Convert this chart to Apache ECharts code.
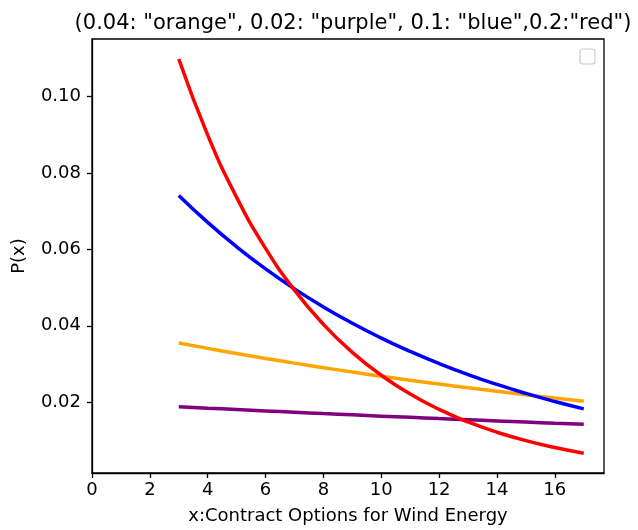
<!DOCTYPE html>
<html>
<head>
<meta charset="utf-8">
<script src="https://cdn.jsdelivr.net/npm/echarts@6/dist/echarts.min.js"></script>
<style>
  html, body { margin: 0; padding: 0; background: #fff; }
  #chart { width: 638px; height: 530px; }
</style>
</head>
<body>
<div id="chart"></div>
<script>
// x values
var xs = [3, 4, 5, 6, 7, 8, 9, 10, 11, 12, 13, 14, 15, 16, 17];
var orangeVals = [0.03548, 0.03409, 0.03275, 0.03147, 0.03023, 0.02905, 0.02791, 0.02681, 0.02576, 0.02475, 0.02378, 0.02285, 0.02195, 0.02109, 0.02026];
var purpleVals = [0.01884, 0.01846, 0.01810, 0.01774, 0.01739, 0.01704, 0.01671, 0.01637, 0.01605, 0.01573, 0.01542, 0.01512, 0.01482, 0.01452, 0.01424];
var blueVals = [0.07408, 0.06703, 0.06065, 0.05488, 0.04966, 0.04493, 0.04066, 0.03679, 0.03329, 0.03012, 0.02725, 0.02466, 0.02231, 0.02019, 0.01827];
var redVals = [0.10976, 0.08987, 0.07358, 0.06024, 0.04932, 0.04038, 0.03306, 0.02707, 0.02216, 0.01814, 0.01485, 0.01216, 0.00996, 0.00815, 0.00667];
// tick labels
var xTicks = [0, 2, 4, 6, 8, 10, 12, 14, 16];
var yTicks = [0.02, 0.04, 0.06, 0.08, 0.10];

var titleText = '(0.04: "orange", 0.02: "purple", 0.1: "blue",0.2:"red")';

function pairs(vals) {
    return xs.map(function(x, i) { return [x, vals[i]]; });
}

function lineSeries(vals, color) {
    return {
        type: 'line',
        data: pairs(vals),
        smooth: true,
        showSymbol: false,
        lineStyle: { color: color, width: 3.5 },
        itemStyle: { color: color }
    };
}

var font = 'DejaVu Sans';
var chart = echarts.init(document.getElementById('chart'));
chart.setOption({
    animation: false,
    title: {
        text: titleText,
        left: 348,
        textAlign: 'center',
        top: 8,
        textStyle: { fontFamily: font, fontSize: 21, fontWeight: 'normal', color: '#000' }
    },
    grid: {
        left: 92, right: 34, top: 39, bottom: 54,
        show: true, borderColor: '#000', borderWidth: 1.3
    },
    xAxis: {
        type: 'value',
        min: 0, max: 17.7,
        name: 'x:Contract Options for Wind Energy',
        nameLocation: 'middle',
        nameGap: 34,
        nameTextStyle: { fontFamily: font, fontSize: 18, color: '#000' },
        axisLine: { show: true, lineStyle: { color: '#000', width: 1.3 } },
        axisTick: { show: true, length: 5, lineStyle: { color: '#000', width: 1.3 }, customValues: xTicks },
        axisLabel: { fontFamily: font, fontSize: 18, color: '#000', margin: 8, customValues: xTicks },
        splitLine: { show: false }
    },
    yAxis: {
        type: 'value',
        min: 0.0015, max: 0.115,
        name: 'P(x)',
        nameLocation: 'middle',
        nameRotate: 90,
        nameGap: 64,
        nameTextStyle: { fontFamily: font, fontSize: 18, color: '#000' },
        axisLine: { show: true, lineStyle: { color: '#000', width: 1.3 } },
        axisTick: { show: true, length: 5, lineStyle: { color: '#000', width: 1.3 }, customValues: yTicks },
        axisLabel: {
            fontFamily: font, fontSize: 18, color: '#000', margin: 11, customValues: yTicks,
            formatter: function(v) { return v.toFixed(2); }
        },
        splitLine: { show: false }
    },
    // empty legend box
    graphic: [{
        type: 'rect',
        shape: { x: 580, y: 49, width: 15, height: 15, r: 3 },
        style: { fill: '#fff', stroke: '#ccc', lineWidth: 1.2 }
    }],
    series: [
        lineSeries(orangeVals, '#FFA500'),
        lineSeries(purpleVals, '#800080'),
        lineSeries(blueVals, '#0000FF'),
        lineSeries(redVals, '#FF0000')
    ]
});
</script>
</body>
</html>
